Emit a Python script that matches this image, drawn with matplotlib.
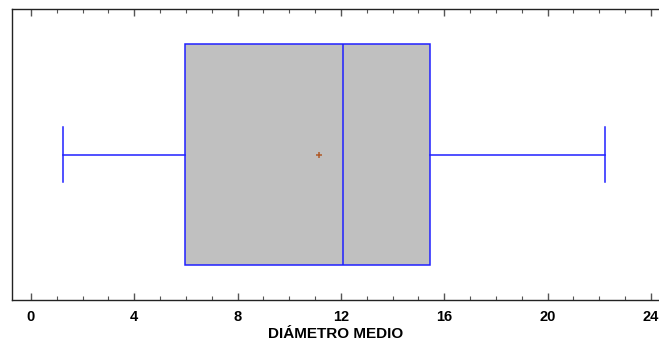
import matplotlib
matplotlib.use("Agg")
import matplotlib.pyplot as plt
from matplotlib.ticker import MultipleLocator

# five-number summary + mean
whisker_low = 1.25
q1 = 5.97
median = 12.09
q3 = 15.45
whisker_high = 22.22
mean = 11.14
xlabel = "DIÁMETRO MEDIO"

plt.rcParams['font.family'] = ['Liberation Sans', 'DejaVu Sans']

fig = plt.figure(figsize=(6.59, 3.42), dpi=100)
ax = fig.add_axes([11.7 / 659, 42 / 342, 647.3 / 659, 290.7 / 342])

stats = [dict(whislo=whisker_low, q1=q1, med=median, q3=q3,
              whishi=whisker_high, mean=mean, fliers=[])]
blue = '#2020ff'
ax.bxp(stats, positions=[1], widths=0.76, vert=False, showmeans=True,
       patch_artist=True, showfliers=False,
       boxprops=dict(facecolor='#c0c0c0', edgecolor=blue, linewidth=1.1),
       medianprops=dict(color=blue, linewidth=1.1),
       whiskerprops=dict(color=blue, linewidth=1.1),
       capprops=dict(color=blue, linewidth=1.1),
       capwidths=0.19,
       meanprops=dict(marker='+', markeredgecolor='#b05a28', markersize=4,
                      markeredgewidth=1.1))

ax.set_xlim(-0.747, 24.31)
ax.set_ylim(0.5, 1.5)
ax.set_yticks([])
ax.xaxis.set_major_locator(MultipleLocator(4))
ax.xaxis.set_minor_locator(MultipleLocator(1))
ax.tick_params(axis='x', which='both', direction='in', top=True, bottom=True,
               color='#555555')
ax.tick_params(axis='x', which='major', length=5, width=1, pad=7.5,
               labelsize=10.5)
ax.tick_params(axis='x', which='minor', length=3, width=0.8)
for lab in ax.get_xticklabels():
    lab.set_fontweight('bold')
ax.spines['right'].set_visible(False)
for s in ['left', 'top', 'bottom']:
    ax.spines[s].set_color('#222222')
    ax.spines[s].set_linewidth(1)
ax.set_xlabel(xlabel, fontsize=11, fontweight='bold', labelpad=1.5)

fig.savefig('out.png', dpi=100)
